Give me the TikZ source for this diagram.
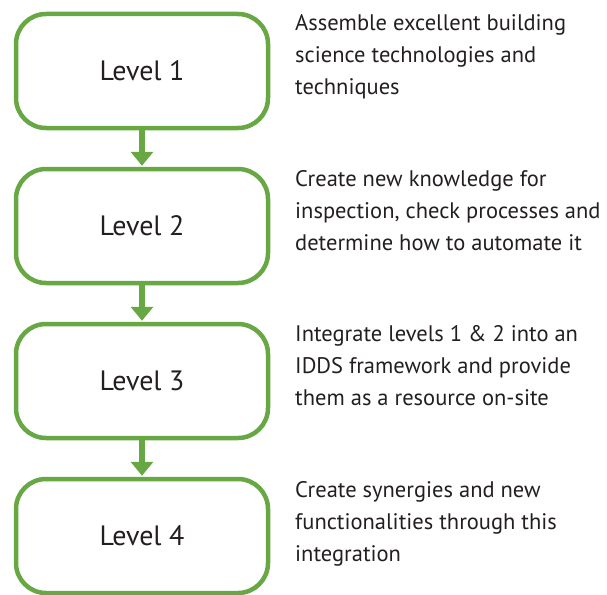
\documentclass[tikz,border=0pt]{standalone}
\usepackage{fontspec}
\setmainfont{PT Sans}
\usetikzlibrary{arrows.meta}
\definecolor{levelgreen}{RGB}{104,168,68}
\definecolor{textgray}{RGB}{35,31,32}
\tikzset{
  levelbox/.style={draw=levelgreen, line width=4.5pt, rounded corners=30pt,
    minimum width=252pt, minimum height=114pt, inner sep=0pt,
    font=\fontsize{28}{32}\selectfont, text=textgray},
  note/.style={anchor=north west, align=left, inner sep=0pt,
    font=\fontsize{22.5}{32}\selectfont, text=textgray},
  step arrow/.style={draw=levelgreen, line width=6.5pt,
    -{Triangle[width=22pt,length=14pt]}, shorten >=1pt}
}
\begin{document}
\begin{tikzpicture}[x=1pt, y=1pt]
      \useasboundingbox (0,0) rectangle (607,-594);
      % Nodes
      \node[levelbox] at (142, -71) (l1) {Level 1};
      \node[levelbox] at (142, -226) (l2) {Level 2};
      \node[levelbox] at (142, -381) (l3) {Level 3};
      \node[levelbox] at (142, -536) (l4) {Level 4};

      \node[note] at (295, -14) (n1) {Assemble excellent building\\science technologies and\\techniques};
      \node[note] at (295, -170) (n2) {Create new knowledge for\\inspection, check processes and\\determine how to automate it};
      \node[note] at (295, -325) (n3) {Integrate levels 1 \& 2 into an\\IDDS framework and provide\\them as a resource on-site};
      \node[note] at (295, -481) (n4) {Create synergies and new\\functionalities through this\\integration};

      \draw[step arrow] (l1) -- (l2);
      \draw[step arrow] (l2) -- (l3);
      \draw[step arrow] (l3) -- (l4);
\end{tikzpicture}
\end{document}
